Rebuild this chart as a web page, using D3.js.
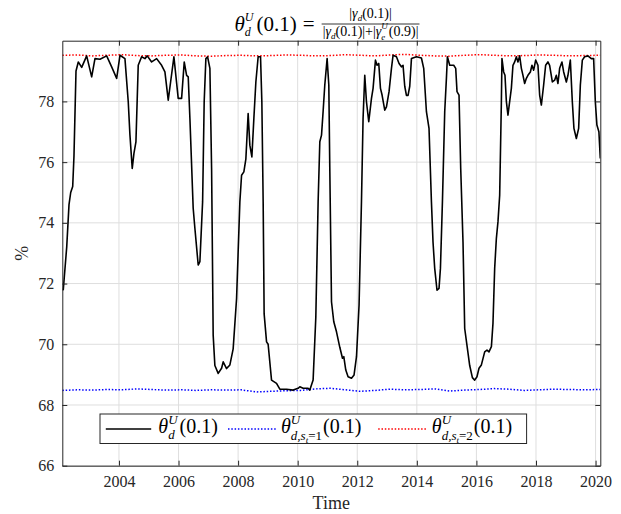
<!DOCTYPE html>
<html><head><meta charset="utf-8">
<script src="https://cdn.jsdelivr.net/npm/d3@7"></script>
<style>
body{margin:0;background:#fff;}
svg{font-family:"Liberation Serif","DejaVu Serif",serif;}
</style></head>
<body><svg id="c" width="621" height="514"></svg>
<script>
// ---- data ----
const dates = [2002.098,2002.131,2002.246,2002.323,2002.380,2002.447,2002.490,2002.558,2002.635,2002.749,2002.916,2003.084,2003.195,2003.363,2003.587,2003.755,2003.923,2004.034,2004.201,2004.312,2004.369,2004.446,2004.503,2004.570,2004.647,2004.761,2004.872,2004.949,2005.097,2005.265,2005.432,2005.543,2005.654,2005.734,2005.845,2005.989,2006.103,2006.191,2006.271,2006.325,2006.382,2006.492,2006.549,2006.660,2006.717,2006.808,2006.861,2006.918,2006.976,2007.053,2007.110,2007.163,2007.220,2007.331,2007.445,2007.499,2007.613,2007.724,2007.834,2007.948,2008.059,2008.116,2008.193,2008.260,2008.337,2008.394,2008.462,2008.529,2008.596,2008.673,2008.753,2008.797,2008.841,2008.874,2008.955,2009.008,2009.122,2009.290,2009.401,2009.626,2009.847,2010.015,2010.072,2010.183,2010.350,2010.407,2010.518,2010.609,2010.686,2010.743,2010.800,2010.853,2010.910,2010.988,2011.045,2011.078,2011.135,2011.212,2011.303,2011.414,2011.504,2011.548,2011.615,2011.692,2011.806,2011.893,2011.974,2012.061,2012.141,2012.195,2012.252,2012.309,2012.386,2012.477,2012.531,2012.611,2012.665,2012.722,2012.779,2012.833,2012.923,2012.980,2013.067,2013.148,2013.202,2013.316,2013.403,2013.483,2013.537,2013.594,2013.651,2013.705,2013.762,2013.819,2013.987,2014.154,2014.231,2014.322,2014.409,2014.490,2014.543,2014.600,2014.677,2014.745,2014.792,2014.859,2014.936,2014.993,2015.026,2015.104,2015.238,2015.305,2015.349,2015.416,2015.473,2015.550,2015.607,2015.698,2015.775,2015.865,2015.942,2016.019,2016.087,2016.167,2016.278,2016.355,2016.422,2016.503,2016.556,2016.613,2016.670,2016.724,2016.781,2016.838,2016.858,2016.915,2016.959,2017.006,2017.059,2017.116,2017.173,2017.227,2017.284,2017.341,2017.395,2017.452,2017.509,2017.563,2017.620,2017.677,2017.730,2017.811,2017.865,2017.922,2017.989,2018.066,2018.123,2018.180,2018.257,2018.324,2018.401,2018.458,2018.549,2018.626,2018.683,2018.737,2018.794,2018.871,2018.929,2019.019,2019.073,2019.153,2019.220,2019.274,2019.355,2019.432,2019.489,2019.556,2019.633,2019.744,2019.857,2019.935,2019.992,2020.045,2020.112,2020.159];
const theta = [71.8,71.8,73.2,74.6,75.0,75.2,76.2,79.0,79.3,79.12,79.5,78.81,79.41,79.39,79.5,79.14,78.76,79.52,79.41,77.99,76.89,75.79,76.29,76.67,79.19,79.47,79.41,79.5,79.3,79.41,79.19,78.97,78.04,78.64,79.47,78.1,78.1,79.3,78.86,78.81,77.44,74.48,73.82,72.61,72.72,74.69,77.99,79.41,79.47,79.09,75.79,70.3,69.3,69.04,69.21,69.42,69.2,69.32,69.85,71.5,74.69,75.57,75.68,76.1,77.6,76.56,76.17,77.44,78.64,79.47,79.47,77.99,74.69,71.0,70.08,70.0,68.82,68.71,68.52,68.52,68.49,68.55,68.6,68.55,68.55,68.49,68.82,70.9,74.69,76.67,76.89,77.66,78.54,79.41,78.54,75.79,71.4,70.74,70.41,69.9,69.54,69.59,69.15,68.93,68.88,68.99,69.59,71.3,74.69,77.44,78.86,77.99,77.33,78.1,78.43,79.36,79.19,79.25,78.43,78.21,77.71,77.82,78.32,79.09,79.52,79.47,79.25,79.14,79.19,78.5,78.2,78.2,78.5,79.41,79.47,79.43,79.09,77.66,77.11,74.69,73.37,72.5,71.78,71.84,72.5,74.69,77.66,78.76,79.47,79.19,79.19,79.09,78.32,78.21,75.79,73.37,70.52,69.86,69.3,68.9,68.82,68.93,69.21,69.32,69.75,69.81,69.75,69.92,70.69,72.5,73.49,74.04,74.91,77.99,79.41,78.97,78.86,77.99,77.55,77.99,78.43,79.19,79.3,79.47,79.3,79.5,79.09,78.86,78.59,78.76,78.86,78.97,79.19,79.03,79.36,79.19,78.21,77.88,78.54,79.19,79.3,79.19,78.64,78.7,78.86,78.59,79.09,79.3,78.97,78.64,78.86,79.36,77.99,77.11,76.78,77.11,78.54,79.36,79.47,79.5,79.41,79.41,77.99,77.22,77.0,76.12];
const regimeDates = [2002.1,2002.6,2003.1,2003.6,2004.1,2004.6,2005.1,2005.6,2006.1,2006.6,2007.1,2007.6,2008.1,2008.6,2009.1,2009.6,2010.1,2010.6,2011.1,2011.6,2012.1,2012.6,2013.1,2013.6,2014.1,2014.6,2015.1,2015.6,2016.1,2016.6,2017.1,2017.6,2018.1,2018.6,2019.1,2019.6,2020.16];
const thetaS1 = [68.48,68.50,68.49,68.51,68.50,68.53,68.51,68.49,68.50,68.48,68.50,68.49,68.50,68.43,68.45,68.47,68.48,68.53,68.55,68.50,68.45,68.48,68.52,68.50,68.51,68.53,68.46,68.49,68.51,68.54,68.52,68.48,68.50,68.52,68.51,68.50,68.51];
const thetaS2 = [79.52,79.53,79.50,79.52,79.54,79.51,79.50,79.52,79.53,79.50,79.49,79.51,79.52,79.50,79.51,79.53,79.52,79.50,79.51,79.54,79.52,79.50,79.53,79.55,79.52,79.50,79.49,79.52,79.54,79.52,79.50,79.51,79.53,79.52,79.50,79.51,79.52];
const xTicks = [2004,2006,2008,2010,2012,2014,2016,2018,2020];
const yTicks = [66,68,70,72,74,76,78];
const xDomain = [2002.098, 2020.159];
const yDomain = [66, 80];

// ---- layout ----
const svg = d3.select("#c");
const L = 62.3, R = 600.3, T = 40.7, B = 465.7;
const axCol = "#262626", gridCol = "#dedede";
const x = d3.scaleLinear().domain(xDomain).range([L, R]);
const y = d3.scaleLinear().domain(yDomain).range([B, T]);

svg.append("rect").attr("x",L).attr("y",T).attr("width",R-L).attr("height",B-T).attr("fill","#fff");

// grid
const grid = svg.append("g");
grid.selectAll(".gx").data(xTicks).join("line")
  .attr("x1",d=>x(d)).attr("x2",d=>x(d)).attr("y1",T).attr("y2",B)
  .attr("stroke",gridCol).attr("stroke-width",1);
grid.selectAll(".gy").data(yTicks).join("line")
  .attr("y1",d=>y(d)).attr("y2",d=>y(d)).attr("x1",L).attr("x2",R)
  .attr("stroke",gridCol).attr("stroke-width",1);

svg.append("clipPath").attr("id","clip").append("rect")
  .attr("x",L).attr("y",T).attr("width",R-L).attr("height",B-T);

const plot = svg.append("g").attr("clip-path","url(#clip)");
const line = d3.line().x(d=>x(d[0])).y(d=>y(d[1]));
plot.append("path").datum(regimeDates.map((d,i)=>[d,thetaS1[i]]))
  .attr("d",line).attr("fill","none").attr("stroke","#0000ff").attr("stroke-width",1.5).attr("stroke-dasharray","1.5,1.8");
plot.append("path").datum(regimeDates.map((d,i)=>[d,thetaS2[i]]))
  .attr("d",line).attr("fill","none").attr("stroke","#ff0000").attr("stroke-width",1.5).attr("stroke-dasharray","1.5,1.8");
plot.append("path").datum(dates.map((d,i)=>[d,theta[i]]))
  .attr("d",line).attr("fill","none").attr("stroke","#000").attr("stroke-width",1.6).attr("stroke-linejoin","round");

// axes
function styleAxis(g){
  g.selectAll(".domain").attr("stroke",axCol).attr("stroke-width",1);
  g.selectAll(".tick line").attr("stroke",axCol);
  g.selectAll(".tick text").attr("fill",axCol).style("font-size","16px").style("font-family","'Liberation Serif',serif");
}
svg.append("g").attr("transform",`translate(0,${B})`)
  .call(d3.axisBottom(x).tickValues(xTicks).tickFormat(d3.format("d")).tickSizeInner(-5).tickSizeOuter(0).tickPadding(10)).call(styleAxis);
svg.append("g").attr("transform",`translate(0,${T})`)
  .call(d3.axisTop(x).tickValues(xTicks).tickFormat("").tickSizeInner(-5).tickSizeOuter(0)).call(styleAxis);
svg.append("g").attr("transform",`translate(${L},0)`)
  .call(d3.axisLeft(y).tickValues(yTicks).tickFormat(d3.format("d")).tickSizeInner(-5).tickSizeOuter(0).tickPadding(8)).call(styleAxis);
svg.append("g").attr("transform",`translate(${R},0)`)
  .call(d3.axisRight(y).tickValues(yTicks).tickFormat("").tickSizeInner(-5).tickSizeOuter(0)).call(styleAxis);

// axis labels
svg.append("text").attr("x",(L+R)/2).attr("y",509).attr("text-anchor","middle")
  .attr("fill",axCol).style("font-size","18px").text("Time");
svg.append("text").attr("transform",`translate(28,${(T+B)/2}) rotate(-90)`).attr("text-anchor","middle")
  .attr("fill",axCol).style("font-size","18px").text("%");

// math text helper
function run(g, x0, y0, items){
  let cx = x0;
  for(const it of items){
    if(it.gap){ cx += it.gap; continue; }
    if(it.stack){
      let w = 0;
      for(const part of it.stack){ const e = run(g, cx, y0, part); w = Math.max(w, e - cx); }
      cx += w; continue;
    }
    const t = g.append("text").attr("x",cx).attr("y",y0+(it.dy||0))
      .attr("fill", it.fill||"#000")
      .style("font-size",it.s+"px").style("font-style",it.i?"italic":"normal").text(it.t);
    cx += t.node().getComputedTextLength();
  }
  return cx;
}

// title
const tg = svg.append("g");
const tMain = [
  {t:"θ",s:21,i:1},
  {stack:[[{t:"U",s:12,i:1,dy:-10}],[{t:"d",s:12,i:1,dy:5}]]},
  {gap:3},{t:"(0.1)",s:21},{gap:6},{t:"=",s:21},{gap:7}
];
const endMain = run(tg, 0, 31, tMain);
const num = [{t:"|",s:14},{t:"γ",s:14,i:1},{stack:[[],[{t:"d",s:9,i:1,dy:3}]]},{t:"(0.1)|",s:14}];
const den = [{t:"|",s:14},{t:"γ",s:14,i:1},{stack:[[],[{t:"d",s:9,i:1,dy:3}]]},{t:"(0.1)|+|",s:14},{t:"γ",s:14,i:1},
  {stack:[[{t:"U",s:9,i:1,dy:-7}],[{t:"e",s:9,i:1,dy:4}]]},{gap:1},{t:"(0.9)|",s:14}];
const tmp = svg.append("g").attr("opacity",0);
const numW = run(tmp,0,0,num), denW = run(tmp,0,0,den);
tmp.remove();
const fracW = Math.max(numW,denW)+2;
const fx = endMain;
run(tg, fx + (fracW-numW)/2, 18, num);
run(tg, fx + (fracW-denW)/2, 36, den);
tg.append("line").attr("x1",fx).attr("x2",fx+fracW).attr("y1",24).attr("y2",24).attr("stroke","#000").attr("stroke-width",0.8);
const totalW = fx + fracW;
tg.attr("transform",`translate(${327 - totalW/2},0)`);

// legend
const lg = svg.append("g");
lg.append("rect").attr("x",100).attr("y",414).attr("width",426.6).attr("height",29.5)
  .attr("fill","#fff").attr("stroke",axCol).attr("stroke-width",1);
const legY = 429, legBase = 433;
const entries = [
  {x1:105.8,x2:151.2,tx:158.3,col:"#000",dash:null,w:1.6,
    items:[{t:"θ",s:20,i:1},{stack:[[{t:"U",s:13,i:1,dy:-9}],[{t:"d",s:13,i:1,dy:6}]]},{gap:2},{t:"(0.1)",s:20}]},
  {x1:228,x2:276.3,tx:281,col:"#0000ff",dash:"1.5,1.8",w:1.5,
    items:[{t:"θ",s:20,i:1},{stack:[[{t:"U",s:13,i:1,dy:-9}],[{t:"d,",s:13,i:1,dy:7},{t:"s",s:13,i:1,dy:7},{t:"t",s:9,i:1,dy:10},{t:"=1",s:13,dy:7}]]},{gap:1},{t:"(0.1)",s:20}]},
  {x1:378.2,x2:426.5,tx:431.8,col:"#ff0000",dash:"1.5,1.8",w:1.5,
    items:[{t:"θ",s:20,i:1},{stack:[[{t:"U",s:13,i:1,dy:-9}],[{t:"d,",s:13,i:1,dy:7},{t:"s",s:13,i:1,dy:7},{t:"t",s:9,i:1,dy:10},{t:"=2",s:13,dy:7}]]},{gap:1},{t:"(0.1)",s:20}]}
];
for(const e of entries){
  const ln = lg.append("line").attr("x1",e.x1).attr("x2",e.x2).attr("y1",legY).attr("y2",legY)
    .attr("stroke",e.col).attr("stroke-width",e.w);
  if(e.dash) ln.attr("stroke-dasharray",e.dash);
  run(lg, e.tx, legBase, e.items);
}
</script></body></html>
